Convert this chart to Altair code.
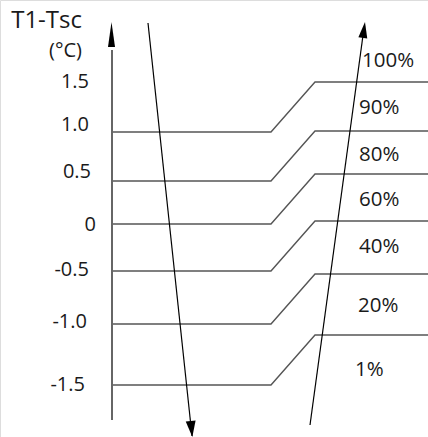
import altair as alt
import pandas as pd

# Diagram coordinates (x to the right, y downward, same units as the drawing)
# Level lines: left plateau level, right plateau level
series = ["100%", "90%", "80%", "60%", "40%", "20%"]
left_y = [132, 181, 224, 271, 324, 385]
right_y = [82, 131, 174, 221, 274, 335]
knot_x = [112, 271, 315, 428]

# Percentage labels
pct_labels = ["100%", "90%", "80%", "60%", "40%", "20%", "1%"]
pct_x = [362, 359, 359, 359, 359, 358, 355]
pct_y = [61, 108, 155, 200, 247, 306, 370]

# Y-axis value labels
val_labels = ["1.5", "1.0", "0.5", "0", "-0.5", "-1.0", "-1.5"]
val_x = [89, 89, 91, 96, 89, 87, 85]
val_y = [82, 125, 172, 225, 270, 322, 385]

# Axis line and arrows
axis_x = [112, 112]
axis_y = [50, 420]
down_x = [148, 192]
down_y = [23, 436]
up_x = [310, 364]
up_y = [425, 28]

rows = []
for i, s in enumerate(series):
    pts = [(knot_x[0], left_y[i]), (knot_x[1], left_y[i]),
           (knot_x[2], right_y[i]), (knot_x[3], right_y[i])]
    for k, (x, y) in enumerate(pts):
        rows.append({"s": s, "k": k, "x": x, "y": y})
lines_df = pd.DataFrame(rows)

xs = alt.Scale(domain=[0, 428], nice=False, zero=False)
ys = alt.Scale(domain=[0, 437], reverse=True, nice=False, zero=False)
X = lambda f="x": alt.X(f, type="quantitative", scale=xs, axis=None)
Y = lambda f="y": alt.Y(f, type="quantitative", scale=ys, axis=None)

FONT = "Open Sans"
TXT = "#1a1a1a"

level_lines = alt.Chart(lines_df).mark_line(color="#555555", strokeWidth=1.4).encode(
    x=X(), y=Y(), detail="s:N", order="k:Q")

def seg(xv, yv, color, width):
    df = pd.DataFrame({"x": xv, "y": yv, "o": [0, 1]})
    return alt.Chart(df).mark_line(color=color, strokeWidth=width).encode(
        x=X(), y=Y(), order="o:Q")

axis_line = seg(axis_x, axis_y, "#666666", 2)
down_line = seg(down_x, down_y, "#000000", 1.2)
up_line = seg(up_x, up_y, "#000000", 1.2)

def head(x, y, path, size, angle):
    df = pd.DataFrame({"x": [x], "y": [y]})
    return alt.Chart(df).mark_point(shape=path, size=size, angle=angle, filled=True,
                                    color="#000000", opacity=1, strokeWidth=0).encode(
        x=X(), y=Y())

axis_head = head(111.5, 34.5, "M0,-1L0.28,1L-0.28,1Z", 625, 0)
down_head = head(191.5, 429, "M0,1L0.62,-1L-0.62,-1Z", 256, 354)
up_head = head(363.9, 30, "M0,-1L0.56,1L-0.56,1Z", 256, 7.8)

pct_df = pd.DataFrame({"t": pct_labels, "x": pct_x, "y": pct_y})
pct_text = alt.Chart(pct_df).mark_text(align="left", baseline="middle", font=FONT,
                                       fontSize=20.5, color=TXT).encode(
    x=X(), y=Y(), text="t:N")

val_df = pd.DataFrame({"t": val_labels, "x": val_x, "y": val_y})
val_text = alt.Chart(val_df).mark_text(align="right", baseline="middle", font=FONT,
                                       fontSize=20, color=TXT).encode(
    x=X(), y=Y(), text="t:N")

title_df = pd.DataFrame({"t": ["T1-Tsc", "(°C)"], "x": [82, 82], "y": [21, 51], "fs": [24, 20]})
title_text = alt.Chart(title_df).mark_text(align="right", baseline="middle", font=FONT,
                                           color=TXT).encode(
    x=X(), y=Y(), text="t:N", size=alt.Size("fs:Q", scale=None, legend=None))

chart = alt.layer(
    level_lines, axis_line, down_line, up_line,
    axis_head, down_head, up_head,
    pct_text, val_text, title_text,
).properties(
    width=428, height=437,
    autosize=alt.AutoSizeParams(type="none"),
    padding=0,
).configure_view(stroke=None).configure(background="white")

chart.save("out.html", embed_options={"renderer": "svg", "actions": False})
